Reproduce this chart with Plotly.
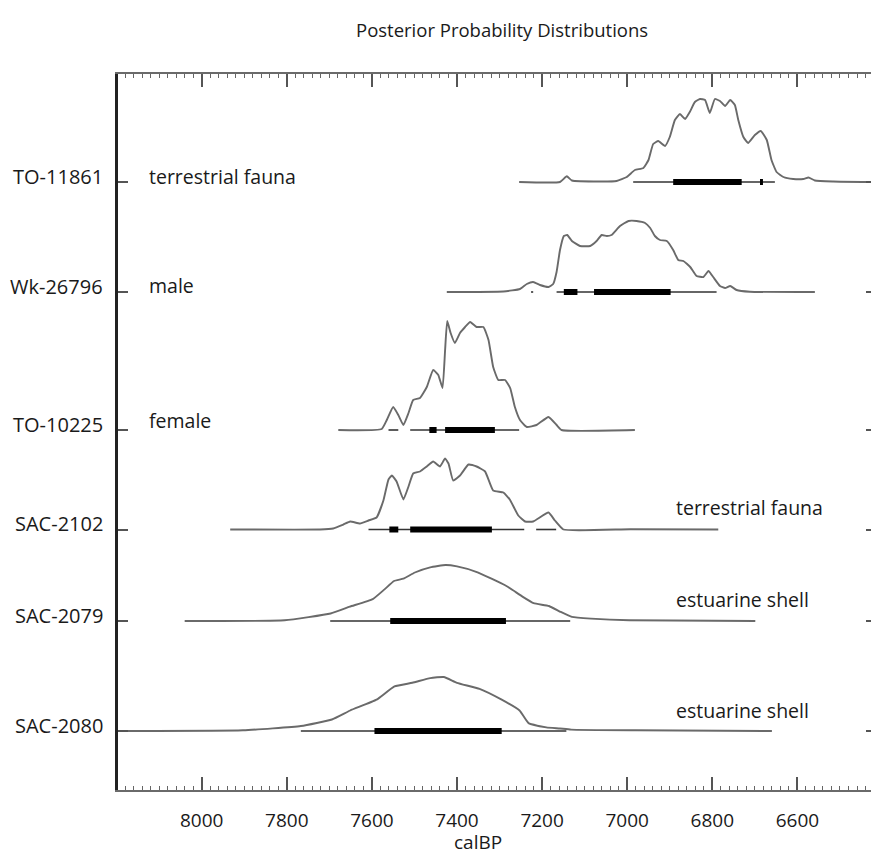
import plotly.graph_objects as go

# ---------------- data ----------------
sample_labels = ["TO-11861", "Wk-26796", "TO-10225", "SAC-2102", "SAC-2079", "SAC-2080"]
material_labels = ["terrestrial fauna", "male", "female", "terrestrial fauna", "estuarine shell", "estuarine shell"]
row_base = [608, 498, 360, 260.5, 169, 59]   # vertical position of each distribution's baseline

to11861_years = [7254, 7158, 7142, 7130, 7064, 7025, 7001, 6982, 6962, 6950, 6939, 6927, 6911, 6900, 6888, 6876,
                 6864, 6853, 6841, 6829, 6817, 6806, 6794, 6782, 6770, 6758, 6747, 6739, 6727, 6716, 6700, 6686,
                 6672, 6661, 6649, 6633, 6610, 6586, 6574, 6559, 6516, 6430]
to11861_dens = [0, 0, 5.7, 1.5, 0.5, 1, 5, 12, 14, 22, 38, 41, 36, 45, 62, 68,
                63, 70, 80, 83, 82, 69, 83, 81, 76, 82, 77, 62, 45, 39, 47, 51,
                42, 22, 10, 5, 3, 3, 4.5, 1.5, 0.5, 0]

wk26796_years = [7424, 7291, 7252, 7236, 7221, 7205, 7185, 7174, 7166, 7158, 7149, 7141, 7130, 7111, 7087, 7072,
                 7060, 7048, 7037, 7017, 6997, 6978, 6958, 6946, 6935, 6923, 6907, 6892, 6880, 6868, 6852, 6837,
                 6821, 6809, 6798, 6782, 6770, 6758, 6743, 6712, 6559]
wk26796_dens = [0, 0.5, 3, 8, 10, 7, 5, 8, 20, 42, 56, 57, 51, 46, 46, 51,
                57, 56, 57, 66, 71, 71, 69, 64, 56, 52, 51, 42, 32, 31, 25, 16,
                15, 21, 15, 6, 4, 6, 2, 0.3, 0]

to10225_years = [7679, 7577, 7565, 7550, 7538, 7526, 7514, 7503, 7487, 7471, 7456, 7444, 7434, 7428, 7423, 7415,
                 7405, 7393, 7381, 7369, 7354, 7338, 7326, 7315, 7303, 7287, 7275, 7264, 7252, 7236, 7213, 7185,
                 7166, 7154, 6982]
to10225_dens = [0, 1, 10, 23, 15, 5, 17, 30, 32, 43, 60, 55, 42, 80, 109, 97,
                87, 97, 103, 108, 103, 103, 90, 63, 50, 50, 42, 23, 10, 3, 5, 13,
                5, 0, 0]

sac2102_years = [7933, 7722, 7691, 7667, 7651, 7628, 7608, 7589, 7573, 7561, 7553, 7542, 7526, 7514, 7503, 7487,
                 7471, 7456, 7440, 7428, 7420, 7409, 7393, 7373, 7354, 7334, 7315, 7291, 7276, 7256, 7240, 7221,
                 7185, 7170, 7150, 6993, 6786]
sac2102_dens = [0, 0, 1, 5, 8, 6, 9, 12, 29, 50, 54, 48, 30, 43, 56, 58,
                63, 68, 63, 71, 66, 49, 54, 65, 63, 58, 39, 37, 30, 14, 8, 8,
                17, 9, 0, 0.3, 0]

sac2079_years = [8040, 7805, 7697, 7652, 7598, 7571, 7548, 7526, 7499, 7463, 7427, 7400, 7355, 7319, 7283, 7247,
                 7220, 7184, 7157, 7130, 7085, 6995, 6699]
sac2079_dens = [0, 0.7, 7.5, 14.3, 21.9, 31.4, 40, 42.3, 48.5, 53.6, 56, 54.6, 49.2, 42.3, 34.8, 24.6,
                17.8, 15, 9.2, 4.1, 2.4, 0.7, 0]

sac2080_years = [8197, 7903, 7767, 7694, 7651, 7589, 7547, 7505, 7463, 7431, 7400, 7347, 7295, 7253, 7232, 7190,
                 7158, 7132, 6980, 6660]
sac2080_dens = [0, 0.7, 5, 11.5, 20.5, 31.3, 44.6, 48.2, 52.9, 54, 48.2, 42.1, 31.3, 20.5, 7.9, 3.6,
                2.5, 1.4, 0.7, 0]

# 95.4% ranges (thin) and 68.2% ranges (thick), as (from, to) calBP
range95 = [
    [(6986, 6653)],
    [(7226, 7221), (7166, 6790)],
    [(7561, 7538), (7510, 7254)],
    [(7608, 7242), (7214, 7167)],
    [(7698, 7134)],
    [(7767, 7143)],
]
range68 = [
    [(6892, 6731), (6688, 6681)],
    [(7149, 7117), (7078, 6898)],
    [(7465, 7448), (7428, 7311)],
    [(7559, 7538), (7510, 7318)],
    [(7557, 7285)],
    [(7594, 7295)],
]

x_ticks = [8000, 7800, 7600, 7400, 7200, 7000, 6800, 6600]

curves = [
    (to11861_years, to11861_dens),
    (wk26796_years, wk26796_dens),
    (to10225_years, to10225_dens),
    (sac2102_years, sac2102_dens),
    (sac2079_years, sac2079_dens),
    (sac2080_years, sac2080_dens),
]

# ---------------- figure ----------------
FONT = "Open Sans"
TXT = "#1a1a1a"
fig = go.Figure()

for i, (yrs, dens) in enumerate(curves):
    base = row_base[i]
    fig.add_trace(go.Scatter(
        x=yrs, y=[base + d for d in dens], mode="lines",
        line=dict(color="#6a6a6a", width=1.9, shape="spline", smoothing=0.4),
        hoverinfo="skip", showlegend=False))
    xs, ys = [], []
    for a, b in range95[i]:
        xs += [a, b, None]
        ys += [base, base, None]
    fig.add_trace(go.Scatter(x=xs, y=ys, mode="lines",
                             line=dict(color="#333333", width=1.6),
                             hoverinfo="skip", showlegend=False))
    xs, ys = [], []
    for a, b in range68[i]:
        xs += [a, b, None]
        ys += [base, base, None]
    fig.add_trace(go.Scatter(x=xs, y=ys, mode="lines",
                             line=dict(color="#000000", width=6),
                             hoverinfo="skip", showlegend=False))

# invisible trace to bring up the secondary (mirror) axes
fig.add_trace(go.Scatter(x=[7000], y=[0], xaxis="x2", yaxis="y2", mode="markers",
                         marker=dict(opacity=0), hoverinfo="skip", showlegend=False))

annotations = []
for lab, base in zip(sample_labels, row_base):
    annotations.append(dict(text=lab, xref="paper", yref="y", x=0, y=base + 6, xshift=-13,
                            xanchor="right", yanchor="middle", showarrow=False,
                            font=dict(family=FONT, size=20, color=TXT)))
mat_pos = [(8128, 614), (8128, 505), (8128, 370), (6890, 283), (6890, 191), (6890, 80)]
for lab, (mx, my) in zip(material_labels, mat_pos):
    annotations.append(dict(text=lab, xref="x", yref="y", x=mx, y=my, xanchor="left",
                            yanchor="middle", showarrow=False,
                            font=dict(family=FONT, size=19.5, color=TXT)))
annotations.append(dict(text="Posterior Probability Distributions", xref="paper", yref="paper",
                        x=0.51, y=1.0615, xanchor="center", yanchor="middle", showarrow=False,
                        font=dict(family=FONT, size=18.5, color=TXT)))
annotations.append(dict(text="calBP", xref="paper", yref="paper",
                        x=0.478, y=-0.073, xanchor="center", yanchor="middle", showarrow=False,
                        font=dict(family=FONT, size=19, color=TXT)))

xr = [8196.7, 6427.1]
axis_common = dict(range=xr, tickvals=x_ticks, ticks="inside", ticklen=13, tickwidth=1.5,
                   tickcolor="#555555", showgrid=False, zeroline=False,
                   showline=True, linecolor="#6a6a6a", linewidth=2,
                   minor=dict(ticks="inside", ticklen=4, tickwidth=1, tickcolor="#666666", dtick=20,
                              tick0=0, showgrid=False))

fig.update_layout(
    width=871, height=854,
    margin=dict(l=118, r=0, t=74, b=64),
    paper_bgcolor="white", plot_bgcolor="white",
    showlegend=False,
    xaxis=dict(**axis_common, showticklabels=True, ticklabelstandoff=12,
               tickfont=dict(family=FONT, size=19, color=TXT)),
    xaxis2=dict(**axis_common, overlaying="x", side="top", matches="x", showticklabels=False),
    yaxis=dict(range=[0, 716], tickvals=row_base, ticks="inside", ticklen=10, tickwidth=1.5,
               tickcolor="#555555", showticklabels=False, showgrid=False, zeroline=False,
               showline=True, linecolor="#222222", linewidth=3),
    yaxis2=dict(range=[0, 716], overlaying="y", side="right", matches="y", tickvals=row_base,
                ticks="inside", ticklen=5, tickwidth=1.5, tickcolor="#555555",
                showticklabels=False, showgrid=False, zeroline=False, showline=False),
    annotations=annotations,
)

fig.write_html("out.html")
